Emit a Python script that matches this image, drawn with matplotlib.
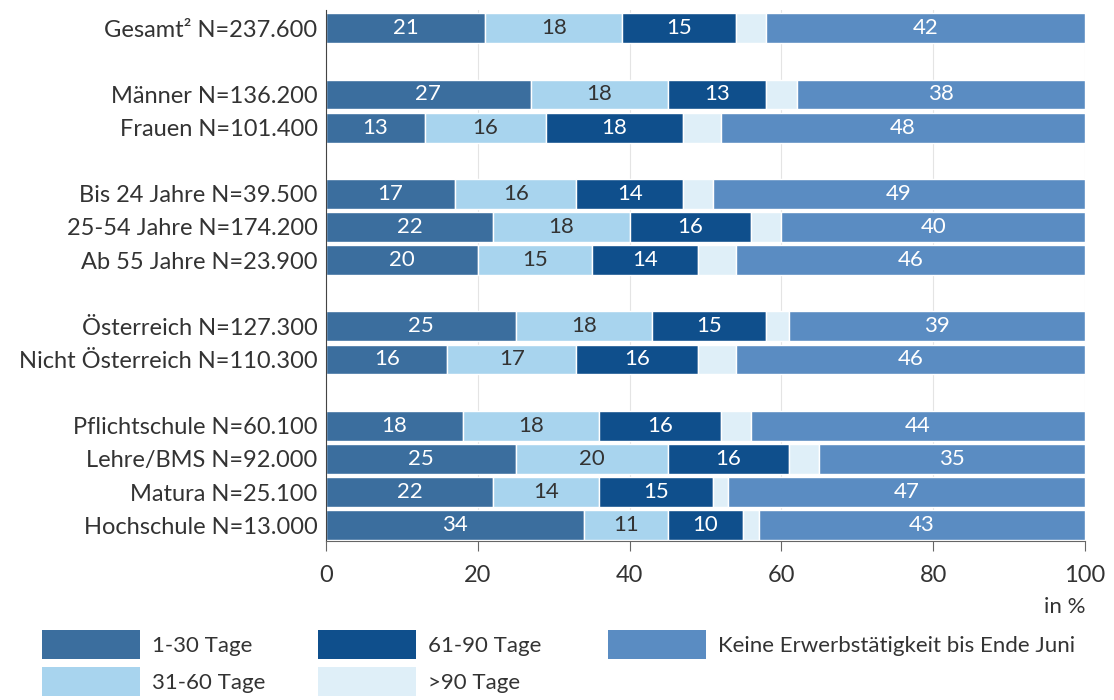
import numpy as np
import matplotlib.pyplot as plt
from matplotlib.patches import Patch

plt.rcParams['font.family'] = ['Lato', 'DejaVu Sans']

labels = ['Gesamt² N=237.600',
          'Männer N=136.200', 'Frauen N=101.400',
          'Bis 24 Jahre N=39.500', '25-54 Jahre N=174.200', 'Ab 55 Jahre N=23.900',
          'Österreich N=127.300', 'Nicht Österreich N=110.300',
          'Pflichtschule N=60.100', 'Lehre/BMS N=92.000', 'Matura N=25.100',
          'Hochschule N=13.000']
# row positions, an empty row between groups
rows = [0, 2, 3, 5, 6, 7, 9, 10, 12, 13, 14, 15]

tage_1_30 = [21, 27, 13, 17, 22, 20, 25, 16, 18, 25, 22, 34]
tage_31_60 = [18, 18, 16, 16, 18, 15, 18, 17, 18, 20, 14, 11]
tage_61_90 = [15, 13, 18, 14, 16, 14, 15, 16, 16, 16, 15, 10]
tage_90 = [4, 4, 5, 4, 4, 5, 3, 5, 4, 4, 2, 2]
keine = [42, 38, 48, 49, 40, 46, 39, 46, 44, 35, 47, 43]

series = [tage_1_30, tage_31_60, tage_61_90, tage_90, keine]
names = ['1-30 Tage', '31-60 Tage', '61-90 Tage', '>90 Tage',
         'Keine Erwerbstätigkeit bis Ende Juni']
colors = ['#3b6e9e', '#a8d4ee', '#0f4f8c', '#dfeff8', '#5a8cc2']
txtcol = ['white', '#333333', 'white', None, 'white']

fig = plt.figure(figsize=(11.14, 7), dpi=100)
ax = fig.add_axes([0.2926, 0.2271, 0.6814, 0.7586])

left = np.zeros(len(rows))
for vals, c, tc in zip(series, colors, txtcol):
    vals = np.array(vals, dtype=float)
    ax.barh(rows, vals, left=left, height=0.9, color=c, edgecolor='white',
            linewidth=1, zorder=2)
    if tc is not None:
        for y, l, v in zip(rows, left, vals):
            ax.text(l + v / 2, y, str(int(v)), ha='center', va='center',
                    color=tc, fontsize=16, zorder=3)
    left += vals

ax.set_xlim(0, 100)
ax.set_ylim(15.48, -0.55)
ax.set_yticks(rows)
ax.set_yticklabels(labels, fontsize=17, color='#333333')
ax.tick_params(axis='y', length=0, pad=6)
ax.set_xticks(range(0, 101, 20))
ax.tick_params(axis='x', labelsize=17, labelcolor='#333333', color='#666666',
               length=7, pad=10)
ax.grid(axis='x', color='#e4e4e4', linewidth=0.8, zorder=0)
ax.set_axisbelow(True)
for s in ['top', 'right']:
    ax.spines[s].set_visible(False)
ax.spines['left'].set_color('#444444')
ax.spines['bottom'].set_color('#666666')

fig.text(0.974, 1 - 607 / 700, 'in %', ha='right', va='center',
         fontsize=16, color='#333333')

# legend: three columns, each placed on its own
handles = [Patch(facecolor=c, edgecolor='none') for c in colors]
cols = [(0, 2, 42), (2, 4, 318), (4, 5, 608)]
for a, b, xpx in cols:
    fig.legend(handles[a:b], names[a:b], loc='upper left',
               bbox_to_anchor=(xpx / 1114, 1 - 630 / 700),
               frameon=False, fontsize=16, handlelength=4.4,
               handleheight=1.6, handletextpad=0.55, labelspacing=0.4,
               borderpad=0, borderaxespad=0, labelcolor='#333333')

fig.savefig('out.png', dpi=100)
